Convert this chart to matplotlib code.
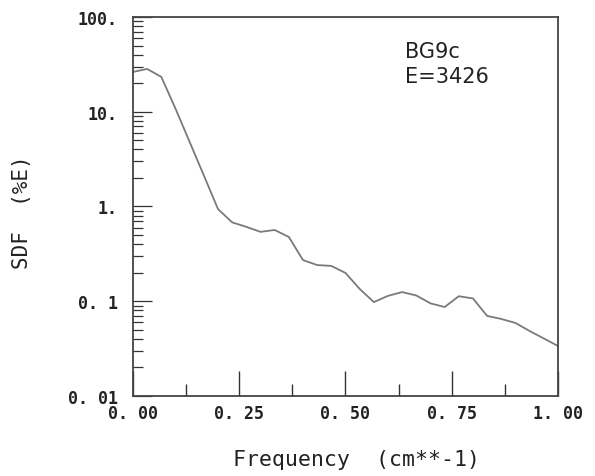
import numpy as np
import matplotlib.pyplot as plt
from matplotlib.ticker import FixedLocator, FixedFormatter, LogLocator, NullFormatter

# Spectral density, sampled every 1/30 cm^-1
freq = np.arange(31) / 30.0
sdf = [26.3, 28.3, 23.3, 10.8, 4.8, 2.13, 0.94, 0.68, 0.61, 0.54, 0.565,
       0.477, 0.272, 0.241, 0.236, 0.199, 0.135, 0.098, 0.114, 0.125, 0.115,
       0.095, 0.087, 0.113, 0.107, 0.070, 0.065, 0.059, 0.0485, 0.0405, 0.0337]

xticks = [0.0, 0.25, 0.5, 0.75, 1.0]
xticklabels = ['0. 00', '0. 25', '0. 50', '0. 75', '1. 00']
yticks = [0.01, 0.1, 1, 10, 100]
yticklabels = ['0. 01', '0. 1', '1.', '10.', '100.']

mono = 'DejaVu Sans Mono'

fig = plt.figure(figsize=(5.95, 4.77), dpi=100)
ax = fig.add_axes([0.2235, 0.1677, 0.7143, 0.7946])

ax.plot(freq, sdf, color='#7a7a7a', lw=1.3)

ax.set_yscale('log')
ax.set_xlim(0, 1)
ax.set_ylim(0.01, 100)

ax.xaxis.set_major_locator(FixedLocator(xticks))
ax.xaxis.set_major_formatter(FixedFormatter(xticklabels))
ax.xaxis.set_minor_locator(FixedLocator([0.125, 0.375, 0.625, 0.875]))
ax.yaxis.set_major_locator(FixedLocator(yticks))
ax.yaxis.set_major_formatter(FixedFormatter(yticklabels))
ax.yaxis.set_minor_locator(LogLocator(base=10, subs=np.arange(2, 10)))
ax.yaxis.set_minor_formatter(NullFormatter())

ax.tick_params(axis='x', which='major', direction='in', length=18, width=1.0,
               pad=6, colors='#333333', labelcolor='#222222')
ax.tick_params(axis='x', which='minor', direction='in', length=8.5, width=1.0,
               colors='#333333')
ax.tick_params(axis='y', which='major', direction='in', length=14, width=0.9,
               pad=11, colors='#333333', labelcolor='#222222')
ax.tick_params(axis='y', which='minor', direction='in', length=7, width=0.9,
               colors='#333333')

for lab in ax.get_xticklabels() + ax.get_yticklabels():
    lab.set_fontfamily(mono)
    lab.set_fontsize(12)
    lab.set_fontweight('bold')

for sp in ax.spines.values():
    sp.set_color('#444444')
    sp.set_linewidth(1.3)

ax.set_xlabel('Frequency  (cm**-1)', fontfamily=mono, fontsize=15.5,
              color='#222222')
ax.xaxis.set_label_coords(0.527, -0.14)
ax.xaxis.label.set_va('top')

ax.set_ylabel('SDF  (%E)', fontfamily=mono, fontsize=15, color='#222222')
ax.yaxis.set_label_coords(-0.238, 0.488)

ax.text(0.64, 0.937, 'BG9c\nE=3426', transform=ax.transAxes, ha='left',
        va='top', fontsize=15, color='#222222', linespacing=1.3)

fig.savefig('out.png', dpi=100, facecolor='white')
